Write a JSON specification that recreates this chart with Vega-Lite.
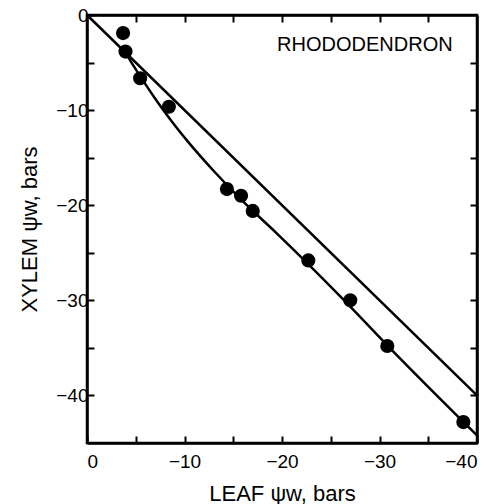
{
  "$schema": "https://vega.github.io/schema/vega-lite/v6.json",
  "width": 390,
  "height": 428,
  "autosize": "none",
  "padding": {"left": 87, "top": 15, "right": 11, "bottom": 61},
  "background": "white",
  "config": {
    "view": {"stroke": "black", "strokeWidth": 2.5},
    "font": "Liberation Sans",
    "axis": {
      "domainColor": "black", "domainWidth": 2.5,
      "tickColor": "black", "tickWidth": 2, "tickSize": -7,
      "labelFont": "Liberation Sans", "labelFontSize": 19, "labelColor": "black",
      "titleFont": "Liberation Sans", "titleFontSize": 22, "titleFontWeight": "normal", "titleColor": "black",
      "grid": false
    }
  },
  "datasets": {
    "points": [
      {"leaf": -3.7, "xylem": -1.9},
      {"leaf": -3.95, "xylem": -3.85},
      {"leaf": -5.45, "xylem": -6.65},
      {"leaf": -8.4, "xylem": -9.65},
      {"leaf": -14.35, "xylem": -18.3},
      {"leaf": -15.8, "xylem": -19.0},
      {"leaf": -17.0, "xylem": -20.6},
      {"leaf": -22.7, "xylem": -25.8},
      {"leaf": -27.0, "xylem": -30.0},
      {"leaf": -30.8, "xylem": -34.8},
      {"leaf": -38.6, "xylem": -42.8}
    ],
    "fit": [
      {"leaf": -3.6, "xylem": -3.4},
      {"leaf": -4.5, "xylem": -4.9},
      {"leaf": -5.5, "xylem": -6.5},
      {"leaf": -7.0, "xylem": -8.8},
      {"leaf": -8.7, "xylem": -11.2},
      {"leaf": -10.5, "xylem": -13.5},
      {"leaf": -13.0, "xylem": -16.4},
      {"leaf": -16.0, "xylem": -19.6},
      {"leaf": -19.3, "xylem": -22.8},
      {"leaf": -26.0, "xylem": -29.6},
      {"leaf": -32.1, "xylem": -36.1},
      {"leaf": -40.0, "xylem": -44.2}
    ],
    "oneToOne": [
      {"leaf": 0, "xylem": 0},
      {"leaf": -40, "xylem": -40}
    ],
    "labels": [
      {"leaf": -28.5, "xylem": -3.2, "text": "RHODODENDRON"}
    ]
  },
  "layer": [
    {
      "data": {"name": "points"},
      "mark": {"type": "point", "filled": true, "color": "black", "size": 200, "opacity": 1},
      "encoding": {
        "x": {
          "field": "leaf", "type": "quantitative",
          "scale": {"domain": [-40, 0], "reverse": true, "nice": false, "zero": false},
          "axis": {
            "orient": "bottom", "title": "LEAF ψw, bars",
            "values": [0, -5, -10, -15, -20, -25, -30, -35, -40],
            "labelExpr": "datum.value % 10 == 0 ? datum.label : ''",
            "labelPadding": 16, "titlePadding": 12
          }
        },
        "y": {
          "field": "xylem", "type": "quantitative",
          "scale": {"domain": [-45, 0], "nice": false, "zero": false},
          "axis": {
            "orient": "left", "title": "XYLEM ψw, bars",
            "values": [0, -5, -10, -15, -20, -25, -30, -35, -40],
            "labelExpr": "datum.value % 10 == 0 ? datum.label : ''",
            "labelPadding": 6, "titlePadding": 14
          }
        }
      }
    },
    {
      "data": {"name": "oneToOne"},
      "mark": {"type": "line", "color": "black", "strokeWidth": 2.5},
      "encoding": {
        "x": {
          "field": "leaf", "type": "quantitative",
          "scale": {"domain": [-40, 0], "reverse": true, "nice": false, "zero": false},
          "axis": {"orient": "top", "title": null, "labels": false,
            "values": [-5, -10, -15, -20, -25, -30, -35]}
        },
        "y": {
          "field": "xylem", "type": "quantitative",
          "scale": {"domain": [-45, 0], "nice": false, "zero": false},
          "axis": {"orient": "right", "title": null, "labels": false,
            "values": [-5, -10, -15, -20, -25, -30, -35, -40]}
        }
      }
    },
    {
      "data": {"name": "fit"},
      "mark": {"type": "line", "color": "black", "strokeWidth": 2.5, "interpolate": "monotone"},
      "encoding": {
        "x": {"field": "leaf", "type": "quantitative", "axis": null,
          "scale": {"domain": [-40, 0], "reverse": true, "nice": false, "zero": false}},
        "y": {"field": "xylem", "type": "quantitative", "axis": null,
          "scale": {"domain": [-45, 0], "nice": false, "zero": false}}
      }
    },
    {
      "data": {"name": "labels"},
      "mark": {"type": "text", "font": "Liberation Sans", "fontSize": 20, "align": "center", "baseline": "middle", "color": "black"},
      "encoding": {
        "x": {"field": "leaf", "type": "quantitative", "axis": null},
        "y": {"field": "xylem", "type": "quantitative", "axis": null},
        "text": {"field": "text"}
      }
    }
  ],
  "resolve": {"axis": {"x": "independent", "y": "independent"}}
}
